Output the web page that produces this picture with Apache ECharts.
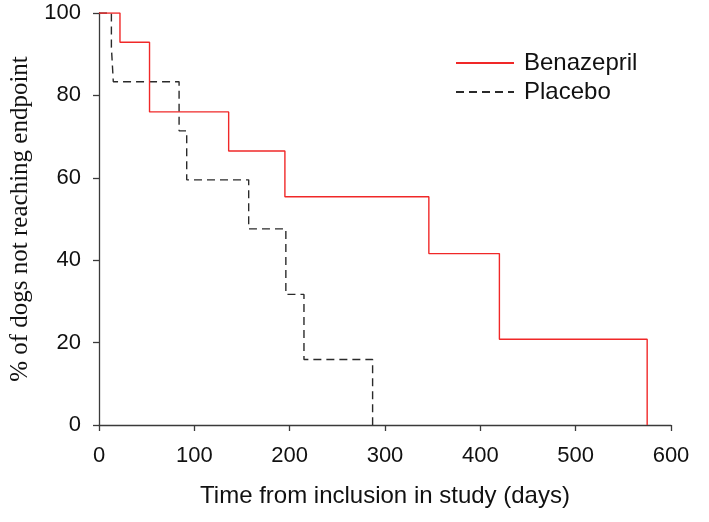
<!DOCTYPE html>
<html>
<head>
<meta charset="utf-8">
<script src="https://cdn.jsdelivr.net/npm/echarts@6/dist/echarts.min.js"></script>
<style>html,body{margin:0;padding:0;background:#fff}#c{width:709px;height:522px}</style>
</head>
<body>
<div id="c"></div>
<script>
// Kaplan-Meier step data (days, % not reaching endpoint)
const benazeprilDays = [0, 22, 53, 136, 195, 346, 420, 575];
const benazeprilPct  = [100, 92.9, 76.0, 66.5, 55.4, 41.6, 20.8, 0];
const placeboDays = [0, 13, 15, 84, 92, 157, 196, 215, 287];
const placeboPct  = [100, 91.7, 83.3, 71.4, 59.5, 47.6, 31.7, 15.9, 0];
const xTicks = [0, 100, 200, 300, 400, 500, 600];
const yTicks = [0, 20, 40, 60, 80, 100];
const seriesNames = ['Benazepril', 'Placebo'];

const pairs = (xs, ys) => xs.map((x, i) => [x, ys[i]]);
const chart = echarts.init(document.getElementById('c'), null, {renderer: 'canvas'});
const axisCol = '#3a3a3a';
chart.setOption({
  animation: false,
  backgroundColor: '#fff',
  grid: {left: 97, right: 38, top: 13, bottom: 97},
  legend: {
    orient: 'vertical', left: 450, top: 46, itemWidth: 58, itemHeight: 14, itemGap: 5,
    itemStyle: {opacity: 0},
    textStyle: {fontFamily: 'Liberation Sans, Arial', fontSize: 24, color: '#111', lineHeight: 24, padding: [0, 0, 0, 5]},
    data: seriesNames
  },
  xAxis: {
    type: 'value', min: xTicks[0], max: xTicks[xTicks.length - 1], interval: 100,
    name: 'Time from inclusion in study (days)', nameLocation: 'middle', nameGap: 59,
    nameTextStyle: {fontFamily: 'Liberation Sans, Arial', fontSize: 24, color: '#111'},
    axisLine: {lineStyle: {color: axisCol, width: 1.3}},
    axisTick: {show: true, length: 6, lineStyle: {color: axisCol, width: 1.3}},
    axisLabel: {margin: 20, fontFamily: 'Liberation Sans, Arial', fontSize: 22, color: '#111'},
    splitLine: {show: false}
  },
  yAxis: {
    type: 'value', min: yTicks[0], max: yTicks[yTicks.length - 1], interval: 20,
    name: '% of dogs not reaching endpoint', nameLocation: 'middle', nameGap: 66, nameRotate: 90,
    nameTextStyle: {fontFamily: 'Liberation Serif, Times New Roman', fontSize: 25, color: '#111'},
    axisLine: {show: true, lineStyle: {color: axisCol, width: 1.3}},
    axisTick: {show: true, length: 6, lineStyle: {color: axisCol, width: 1.3}},
    axisLabel: {margin: 18, fontFamily: 'Liberation Sans, Arial', fontSize: 22, color: '#111'},
    splitLine: {show: false}
  },
  series: [
    {name: seriesNames[0], type: 'line', step: 'end', symbol: 'none', data: pairs(benazeprilDays, benazeprilPct),
     lineStyle: {color: '#f02828', width: 1.4}, itemStyle: {color: '#f02828'}, z: 3},
    {name: seriesNames[1], type: 'line', step: 'end', symbol: 'none', data: pairs(placeboDays, placeboPct),
     lineStyle: {color: '#2a2a2a', width: 1.4, type: [8, 5]}, itemStyle: {color: '#2a2a2a'}, z: 2}
  ]
});
</script>
</body>
</html>
